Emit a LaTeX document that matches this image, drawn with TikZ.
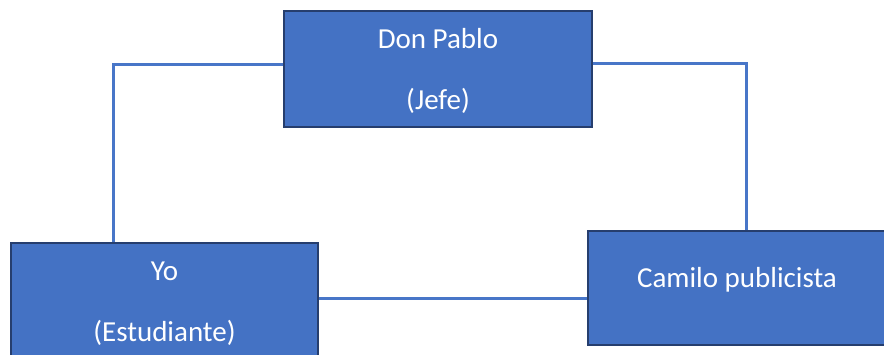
\documentclass[tikz,border=0pt]{standalone}
\usepackage{fontspec}
\setmainfont{Carlito}
\definecolor{boxfill}{RGB}{68,114,196}
\definecolor{boxline}{RGB}{38,62,110}
\definecolor{linkline}{RGB}{72,118,200}
\begin{document}
\begin{tikzpicture}[x=1pt,y=-1pt,
    person/.style={draw=boxline,line width=2pt,fill=boxfill,text=white,
      font=\fontsize{29}{61}\selectfont,align=center,inner sep=0pt},
    link/.style={draw=linkline,line width=3pt}]
  \clip (0,0) rectangle (884,354);
  \useasboundingbox (0,0) rectangle (884,354);
  \node[person,minimum width=308pt,minimum height=116pt,text depth=0pt] (pablo) at (438,69)
    {Don Pablo\\(Jefe)};
  \node[person,minimum width=307pt,minimum height=118pt,text depth=0pt] (yo) at (164.5,302)
    {Yo\\(Estudiante)};
  \node[person,minimum width=298pt,minimum height=114pt,text depth=22pt] (camilo) at (737,288)
    {Camilo publicista};
  \coordinate (lcorner) at (113,64);
  \coordinate (rcorner) at (746,63);
  \coordinate (bottomlink) at (450,298);
  \begin{scope}[link]
    \draw (pablo.west |- lcorner) -- (lcorner) -- (lcorner |- yo.north);
    \draw (pablo.east |- rcorner) -- (rcorner) -- (rcorner |- camilo.north);
    \draw (yo.east |- bottomlink) -- (camilo.west |- bottomlink);
  \end{scope}
\end{tikzpicture}
\end{document}
